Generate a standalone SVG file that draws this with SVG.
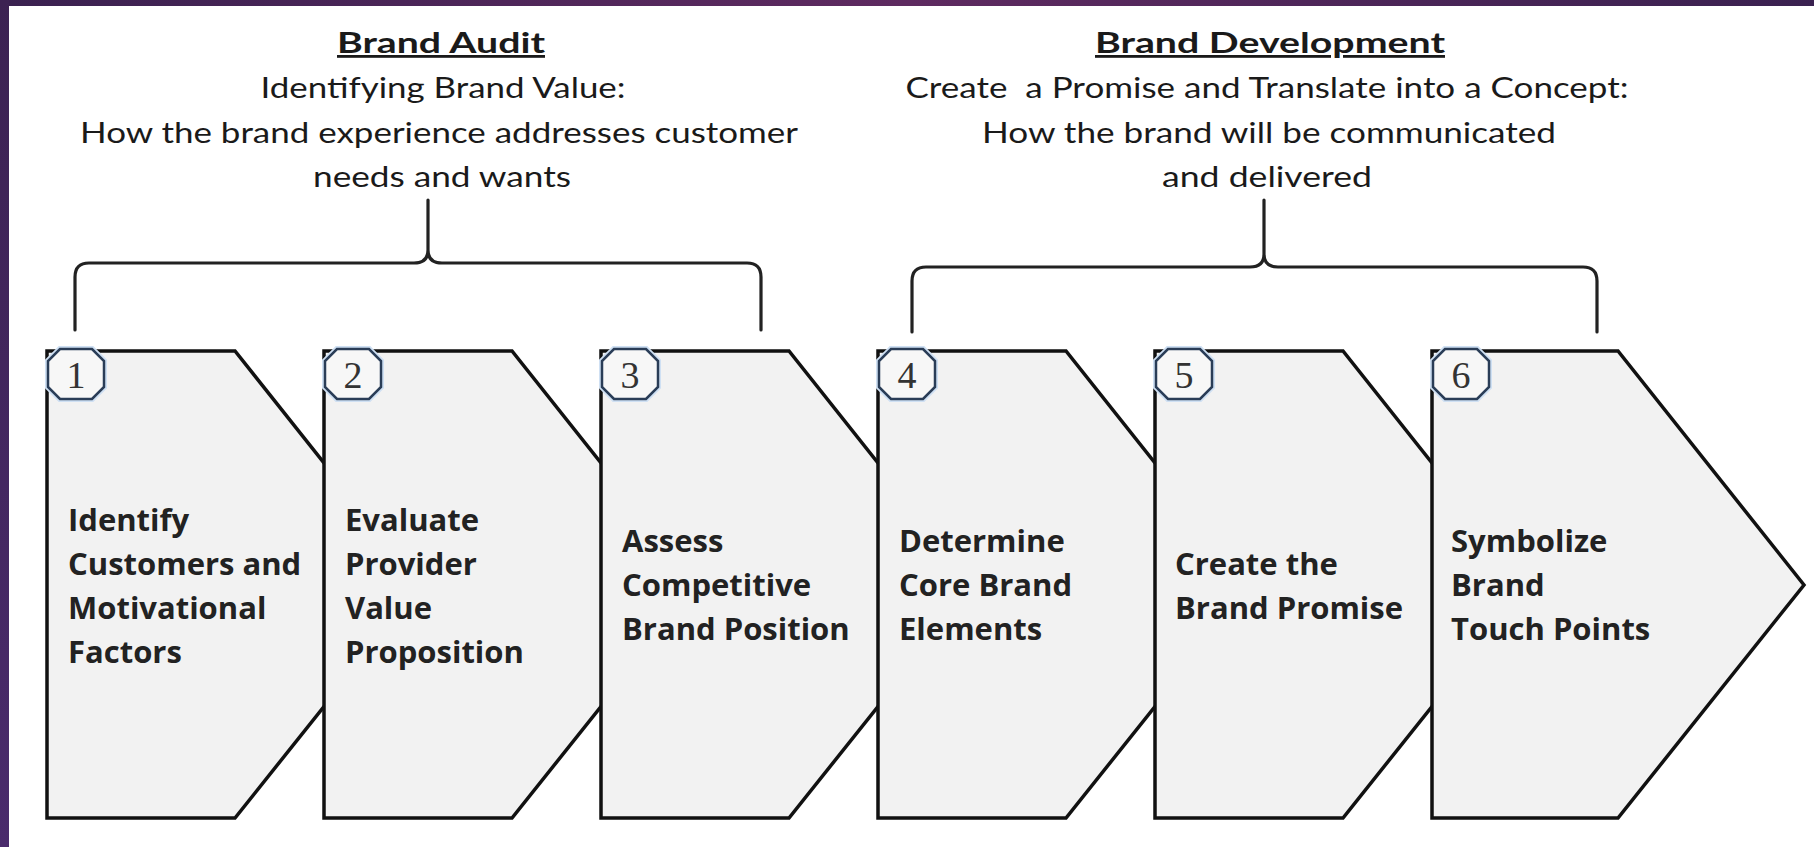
<svg xmlns="http://www.w3.org/2000/svg" width="1814" height="847" viewBox="0 0 1814 847">
  <defs>
    <linearGradient id="topband" x1="0" y1="0" x2="1" y2="0">
      <stop offset="0" stop-color="#3a2150"/>
      <stop offset="0.5" stop-color="#5e2a60"/>
      <stop offset="1" stop-color="#3a2150"/>
    </linearGradient>
    <linearGradient id="leftband" x1="0" y1="0" x2="0" y2="1">
      <stop offset="0" stop-color="#3c2252"/>
      <stop offset="1" stop-color="#4a2b6c"/>
    </linearGradient>
    <style>
      .node { fill: #f2f2f2; stroke: #111; stroke-width: 3.5; stroke-linejoin: miter; }
      .badge-glow { fill: none; stroke: #cfe0f3; stroke-width: 6; }
      .badge { fill: #f7f7f7; stroke: #2a3d57; stroke-width: 2.5; }
      .num { font-family: "Liberation Serif", serif; font-size: 38px; fill: #333; text-anchor: middle; }
      .lbl { font-family: "Open Sans", "Liberation Sans", sans-serif; font-weight: bold; font-size: 31px; fill: #222; }
      .head { font-family: Lato, "Open Sans", "Liberation Sans", sans-serif; font-size: 28px; fill: #1a1a1a; text-anchor: middle; }
      .title { font-weight: bold; text-decoration: underline; }
      .brace { fill: none; stroke: #222; stroke-width: 3.2; stroke-linecap: round; stroke-linejoin: round; }
    </style>
  </defs>

  <rect x="0" y="0" width="1814" height="847" fill="#ffffff"/>
  <rect x="0" y="0" width="1814" height="6" fill="url(#topband)"/>
  <rect x="0" y="0" width="9" height="847" fill="url(#leftband)"/>

  <g id="heading-audit">
    <text class="head title" x="441" y="53" textLength="208" lengthAdjust="spacingAndGlyphs">Brand Audit</text>
    <text class="head" x="443" y="98" textLength="365" lengthAdjust="spacingAndGlyphs">Identifying Brand Value:</text>
    <text class="head" x="439" y="143" textLength="718" lengthAdjust="spacingAndGlyphs">How the brand experience addresses customer</text>
    <text class="head" x="442" y="187" textLength="258" lengthAdjust="spacingAndGlyphs">needs and wants</text>
  </g>

  <g id="heading-development">
    <text class="head title" x="1270" y="53" textLength="350" lengthAdjust="spacingAndGlyphs">Brand Development</text>
    <text class="head" x="1267" y="98" textLength="723" lengthAdjust="spacingAndGlyphs" xml:space="preserve">Create  a Promise and Translate into a Concept:</text>
    <text class="head" x="1269" y="143" textLength="574" lengthAdjust="spacingAndGlyphs">How the brand will be communicated</text>
    <text class="head" x="1267" y="187" textLength="210" lengthAdjust="spacingAndGlyphs">and delivered</text>
  </g>

  <g id="connectors">
    <path class="brace" d="M75,330 L75,277 Q75,263 89,263 L414,263 Q428,263 428,250 L428,200 M428,250 Q428,263 442,263 L747,263 Q761,263 761,277 L761,330"/>
    <path class="brace" d="M912,332 L912,281 Q912,267 926,267 L1250,267 Q1264,267 1264,254 L1264,200 M1264,254 Q1264,267 1278,267 L1583,267 Q1597,267 1597,281 L1597,332"/>
  </g>

  <g id="node1">
    <polygon class="node" points="47,351 235,351 421,585 235,818 47,818"/>
    <polygon class="badge-glow" points="60,349 92,349 104,361 104,387 92,399 60,399 48,387 48,361"/>
    <polygon class="badge" points="60,349 92,349 104,361 104,387 92,399 60,399 48,387 48,361"/>
    <text class="num" x="76" y="388">1</text>
    <text class="lbl" x="68" y="531">Identify</text>
    <text class="lbl" x="68" y="575">Customers and</text>
    <text class="lbl" x="68" y="619">Motivational</text>
    <text class="lbl" x="68" y="663">Factors</text>
  </g>

  <g id="node2">
    <polygon class="node" points="324,351 512,351 698,585 512,818 324,818"/>
    <polygon class="badge-glow" points="337,349 369,349 381,361 381,387 369,399 337,399 325,387 325,361"/>
    <polygon class="badge" points="337,349 369,349 381,361 381,387 369,399 337,399 325,387 325,361"/>
    <text class="num" x="353" y="388">2</text>
    <text class="lbl" x="345" y="531">Evaluate</text>
    <text class="lbl" x="345" y="575">Provider</text>
    <text class="lbl" x="345" y="619">Value</text>
    <text class="lbl" x="345" y="663">Proposition</text>
  </g>

  <g id="node3">
    <polygon class="node" points="601,351 789,351 975,585 789,818 601,818"/>
    <polygon class="badge-glow" points="614,349 646,349 658,361 658,387 646,399 614,399 602,387 602,361"/>
    <polygon class="badge" points="614,349 646,349 658,361 658,387 646,399 614,399 602,387 602,361"/>
    <text class="num" x="630" y="388">3</text>
    <text class="lbl" x="622" y="552">Assess</text>
    <text class="lbl" x="622" y="596">Competitive</text>
    <text class="lbl" x="622" y="640">Brand Position</text>
  </g>

  <g id="node4">
    <polygon class="node" points="878,351 1066,351 1252,585 1066,818 878,818"/>
    <polygon class="badge-glow" points="891,349 923,349 935,361 935,387 923,399 891,399 879,387 879,361"/>
    <polygon class="badge" points="891,349 923,349 935,361 935,387 923,399 891,399 879,387 879,361"/>
    <text class="num" x="907" y="388">4</text>
    <text class="lbl" x="899" y="552">Determine</text>
    <text class="lbl" x="899" y="596">Core Brand</text>
    <text class="lbl" x="899" y="640">Elements</text>
  </g>

  <g id="node5">
    <polygon class="node" points="1155,351 1343,351 1529,585 1343,818 1155,818"/>
    <polygon class="badge-glow" points="1168,349 1200,349 1212,361 1212,387 1200,399 1168,399 1156,387 1156,361"/>
    <polygon class="badge" points="1168,349 1200,349 1212,361 1212,387 1200,399 1168,399 1156,387 1156,361"/>
    <text class="num" x="1184" y="388">5</text>
    <text class="lbl" x="1175" y="575">Create the</text>
    <text class="lbl" x="1175" y="619">Brand Promise</text>
  </g>

  <g id="node6">
    <polygon class="node" points="1432,351 1618,351 1804,585 1618,818 1432,818"/>
    <polygon class="badge-glow" points="1445,349 1477,349 1489,361 1489,387 1477,399 1445,399 1433,387 1433,361"/>
    <polygon class="badge" points="1445,349 1477,349 1489,361 1489,387 1477,399 1445,399 1433,387 1433,361"/>
    <text class="num" x="1461" y="388">6</text>
    <text class="lbl" x="1451" y="552">Symbolize</text>
    <text class="lbl" x="1451" y="596">Brand</text>
    <text class="lbl" x="1451" y="640">Touch Points</text>
  </g>
</svg>
